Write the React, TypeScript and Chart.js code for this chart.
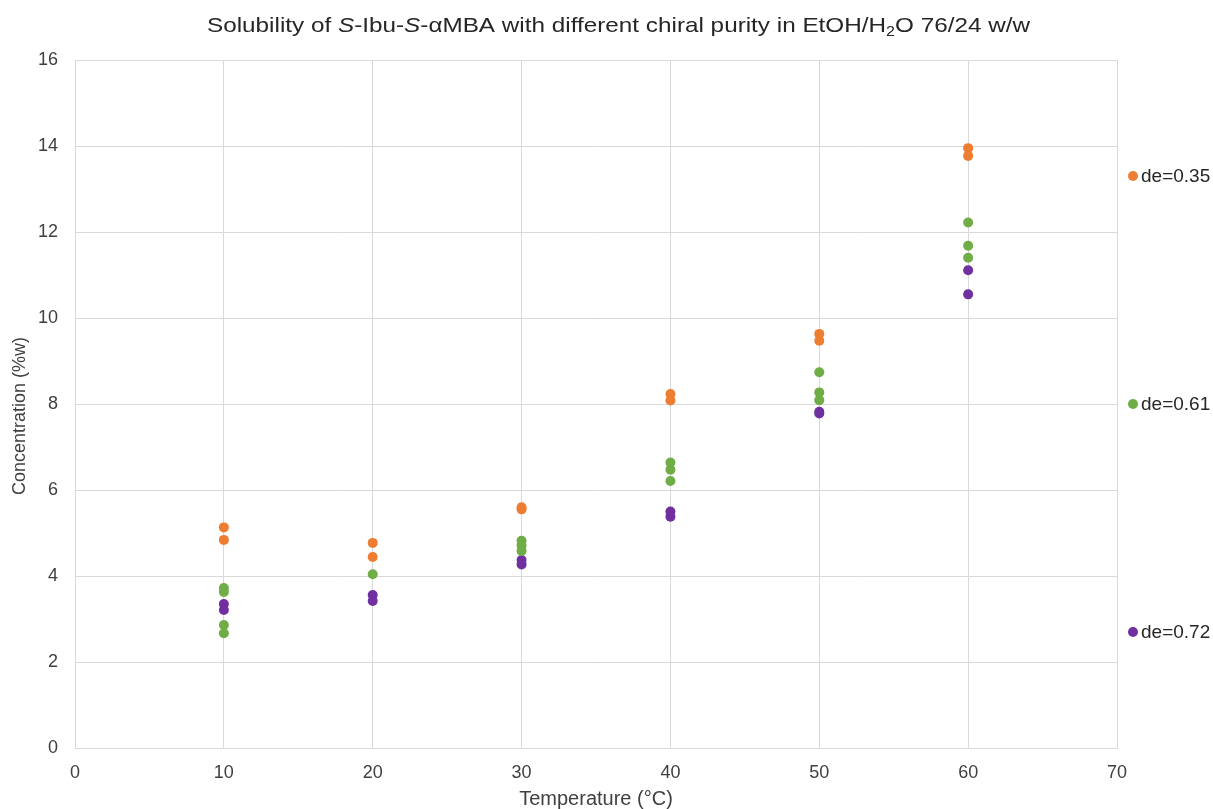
import React, { useEffect, useRef } from "react";
import { Chart, registerables } from "chart.js";

Chart.register(...registerables);

const FONT = "'Liberation Sans', Arial, sans-serif";

const seriesLabels = ["de=0.35", "de=0.61", "de=0.72"];
const seriesColors = ["#ED7D31", "#70AD47", "#7030A0"];

const tempsDe035 = [10, 10, 20, 20, 30, 30, 40, 40, 50, 50, 60, 60];
const concDe035 = [5.13, 4.84, 4.77, 4.44, 5.6, 5.55, 8.23, 8.08, 9.63, 9.47, 13.95, 13.77];

const tempsDe061 = [10, 10, 10, 10, 20, 30, 30, 30, 40, 40, 40, 50, 50, 50, 60, 60, 60];
const concDe061 = [3.72, 3.63, 2.86, 2.67, 4.04, 4.82, 4.71, 4.58, 6.64, 6.47, 6.21, 8.74, 8.27, 8.09, 12.22, 11.68, 11.4];

const tempsDe072 = [10, 10, 20, 20, 30, 30, 40, 40, 50, 50, 60, 60];
const concDe072 = [3.35, 3.21, 3.56, 3.42, 4.37, 4.27, 5.5, 5.38, 7.82, 7.78, 11.11, 10.55];

const xTitle = "Temperature (°C)";
const yTitle = "Concentration (%w)";

const titleSegments = [
  { text: "Solubility of ", style: "normal" },
  { text: "S", style: "italic" },
  { text: "-Ibu-", style: "normal" },
  { text: "S", style: "italic" },
  { text: "-αMBA with different chiral purity in EtOH/H", style: "normal" },
  { text: "2", style: "sub" },
  { text: "O 76/24 w/w", style: "normal" },
];

const toPoints = (xs: number[], ys: number[]) => xs.map((x, i) => ({ x, y: ys[i] }));

const titlePlugin = {
  id: "richTitle",
  afterDraw(chart: any) {
    const ctx = chart.ctx;
    const size = 21;
    const targetWidth = 823;
    const centerX = 618.5;
    const fontFor = (s: string) =>
      s === "italic" ? `italic ${size}px ${FONT}` : s === "sub" ? `${size * 0.66}px ${FONT}` : `${size}px ${FONT}`;
    ctx.save();
    let total = 0;
    for (const seg of titleSegments) {
      ctx.font = fontFor(seg.style);
      total += ctx.measureText(seg.text).width;
    }
    const sx = targetWidth / total;
    ctx.translate(centerX - targetWidth / 2, 26);
    ctx.scale(sx, 1);
    let x = 0;
    ctx.fillStyle = "#262626";
    ctx.textBaseline = "middle";
    ctx.textAlign = "left";
    for (const seg of titleSegments) {
      ctx.font = fontFor(seg.style);
      ctx.fillText(seg.text, x, seg.style === "sub" ? 6 : 0);
      x += ctx.measureText(seg.text).width;
    }
    ctx.restore();

    // vertical axis title
    ctx.save();
    ctx.translate(20, 416);
    ctx.rotate(-Math.PI / 2);
    ctx.font = `18px ${FONT}`;
    ctx.fillStyle = "#404040";
    ctx.textAlign = "center";
    ctx.textBaseline = "middle";
    ctx.fillText(yTitle, 0, 0);
    ctx.restore();
  },
};

const legendPlugin = {
  id: "spreadLegend",
  afterDraw(chart: any) {
    const ctx = chart.ctx;
    const { top, bottom } = chart.chartArea;
    const h = bottom - top;
    const offsets = [116 / 688, 344 / 688, 572 / 688];
    ctx.save();
    ctx.font = `19px ${FONT}`;
    ctx.textBaseline = "middle";
    ctx.textAlign = "left";
    chart.data.datasets.forEach((ds: any, i: number) => {
      const y = top + h * offsets[i];
      ctx.fillStyle = ds.backgroundColor;
      ctx.beginPath();
      ctx.arc(1133, y, 5, 0, Math.PI * 2);
      ctx.fill();
      ctx.fillStyle = "#262626";
      ctx.fillText(ds.label, 1141, y + 1);
    });
    ctx.restore();
  },
};

export default function App() {
  const ref = useRef<HTMLCanvasElement>(null);
  useEffect(() => {
    if (!ref.current) return;
    const datasets = [
      toPoints(tempsDe035, concDe035),
      toPoints(tempsDe061, concDe061),
      toPoints(tempsDe072, concDe072),
    ].map((data, i) => ({
      label: seriesLabels[i],
      data,
      backgroundColor: seriesColors[i],
      borderColor: seriesColors[i],
      pointRadius: 5,
      pointBorderWidth: 0,
      showLine: false,
    }));
    const chart = new Chart(ref.current, {
      type: "scatter",
      data: { datasets },
      options: {
        animation: false,
        responsive: false,
        layout: { padding: { top: 60, right: 96, left: 0, bottom: 0 } },
        plugins: {
          legend: { display: false },
          title: { display: false },
          tooltip: { enabled: false },
        },
        scales: {
          x: {
            type: "linear",
            min: 0,
            max: 70,
            ticks: { stepSize: 10, color: "#404040", font: { family: FONT, size: 18 }, padding: 14 },
            grid: { color: "#d9d9d9", drawTicks: false },
            border: { color: "#d9d9d9" },
            title: {
              display: true,
              text: xTitle,
              color: "#404040",
              font: { family: FONT, size: 20, lineHeight: 1 },
              padding: { top: 0, bottom: 0 },
            },
            afterFit(scale: any) {
              scale.height = 61;
            },
          },
          y: {
            type: "linear",
            min: 0,
            max: 16,
            ticks: { stepSize: 2, color: "#404040", font: { family: FONT, size: 18 }, padding: 17 },
            grid: { color: "#d9d9d9", drawTicks: false },
            border: { color: "#d9d9d9" },
            title: { display: false },
            afterFit(scale: any) {
              scale.width = 75;
            },
          },
        },
      },
      plugins: [titlePlugin, legendPlugin],
    } as any);
    return () => chart.destroy();
  }, []);
  return (
    <div style={{ position: "absolute", left: 0, top: 0, width: 1213, height: 809, background: "#fff" }}>
      <canvas ref={ref} width={1213} height={809} />
    </div>
  );
}
